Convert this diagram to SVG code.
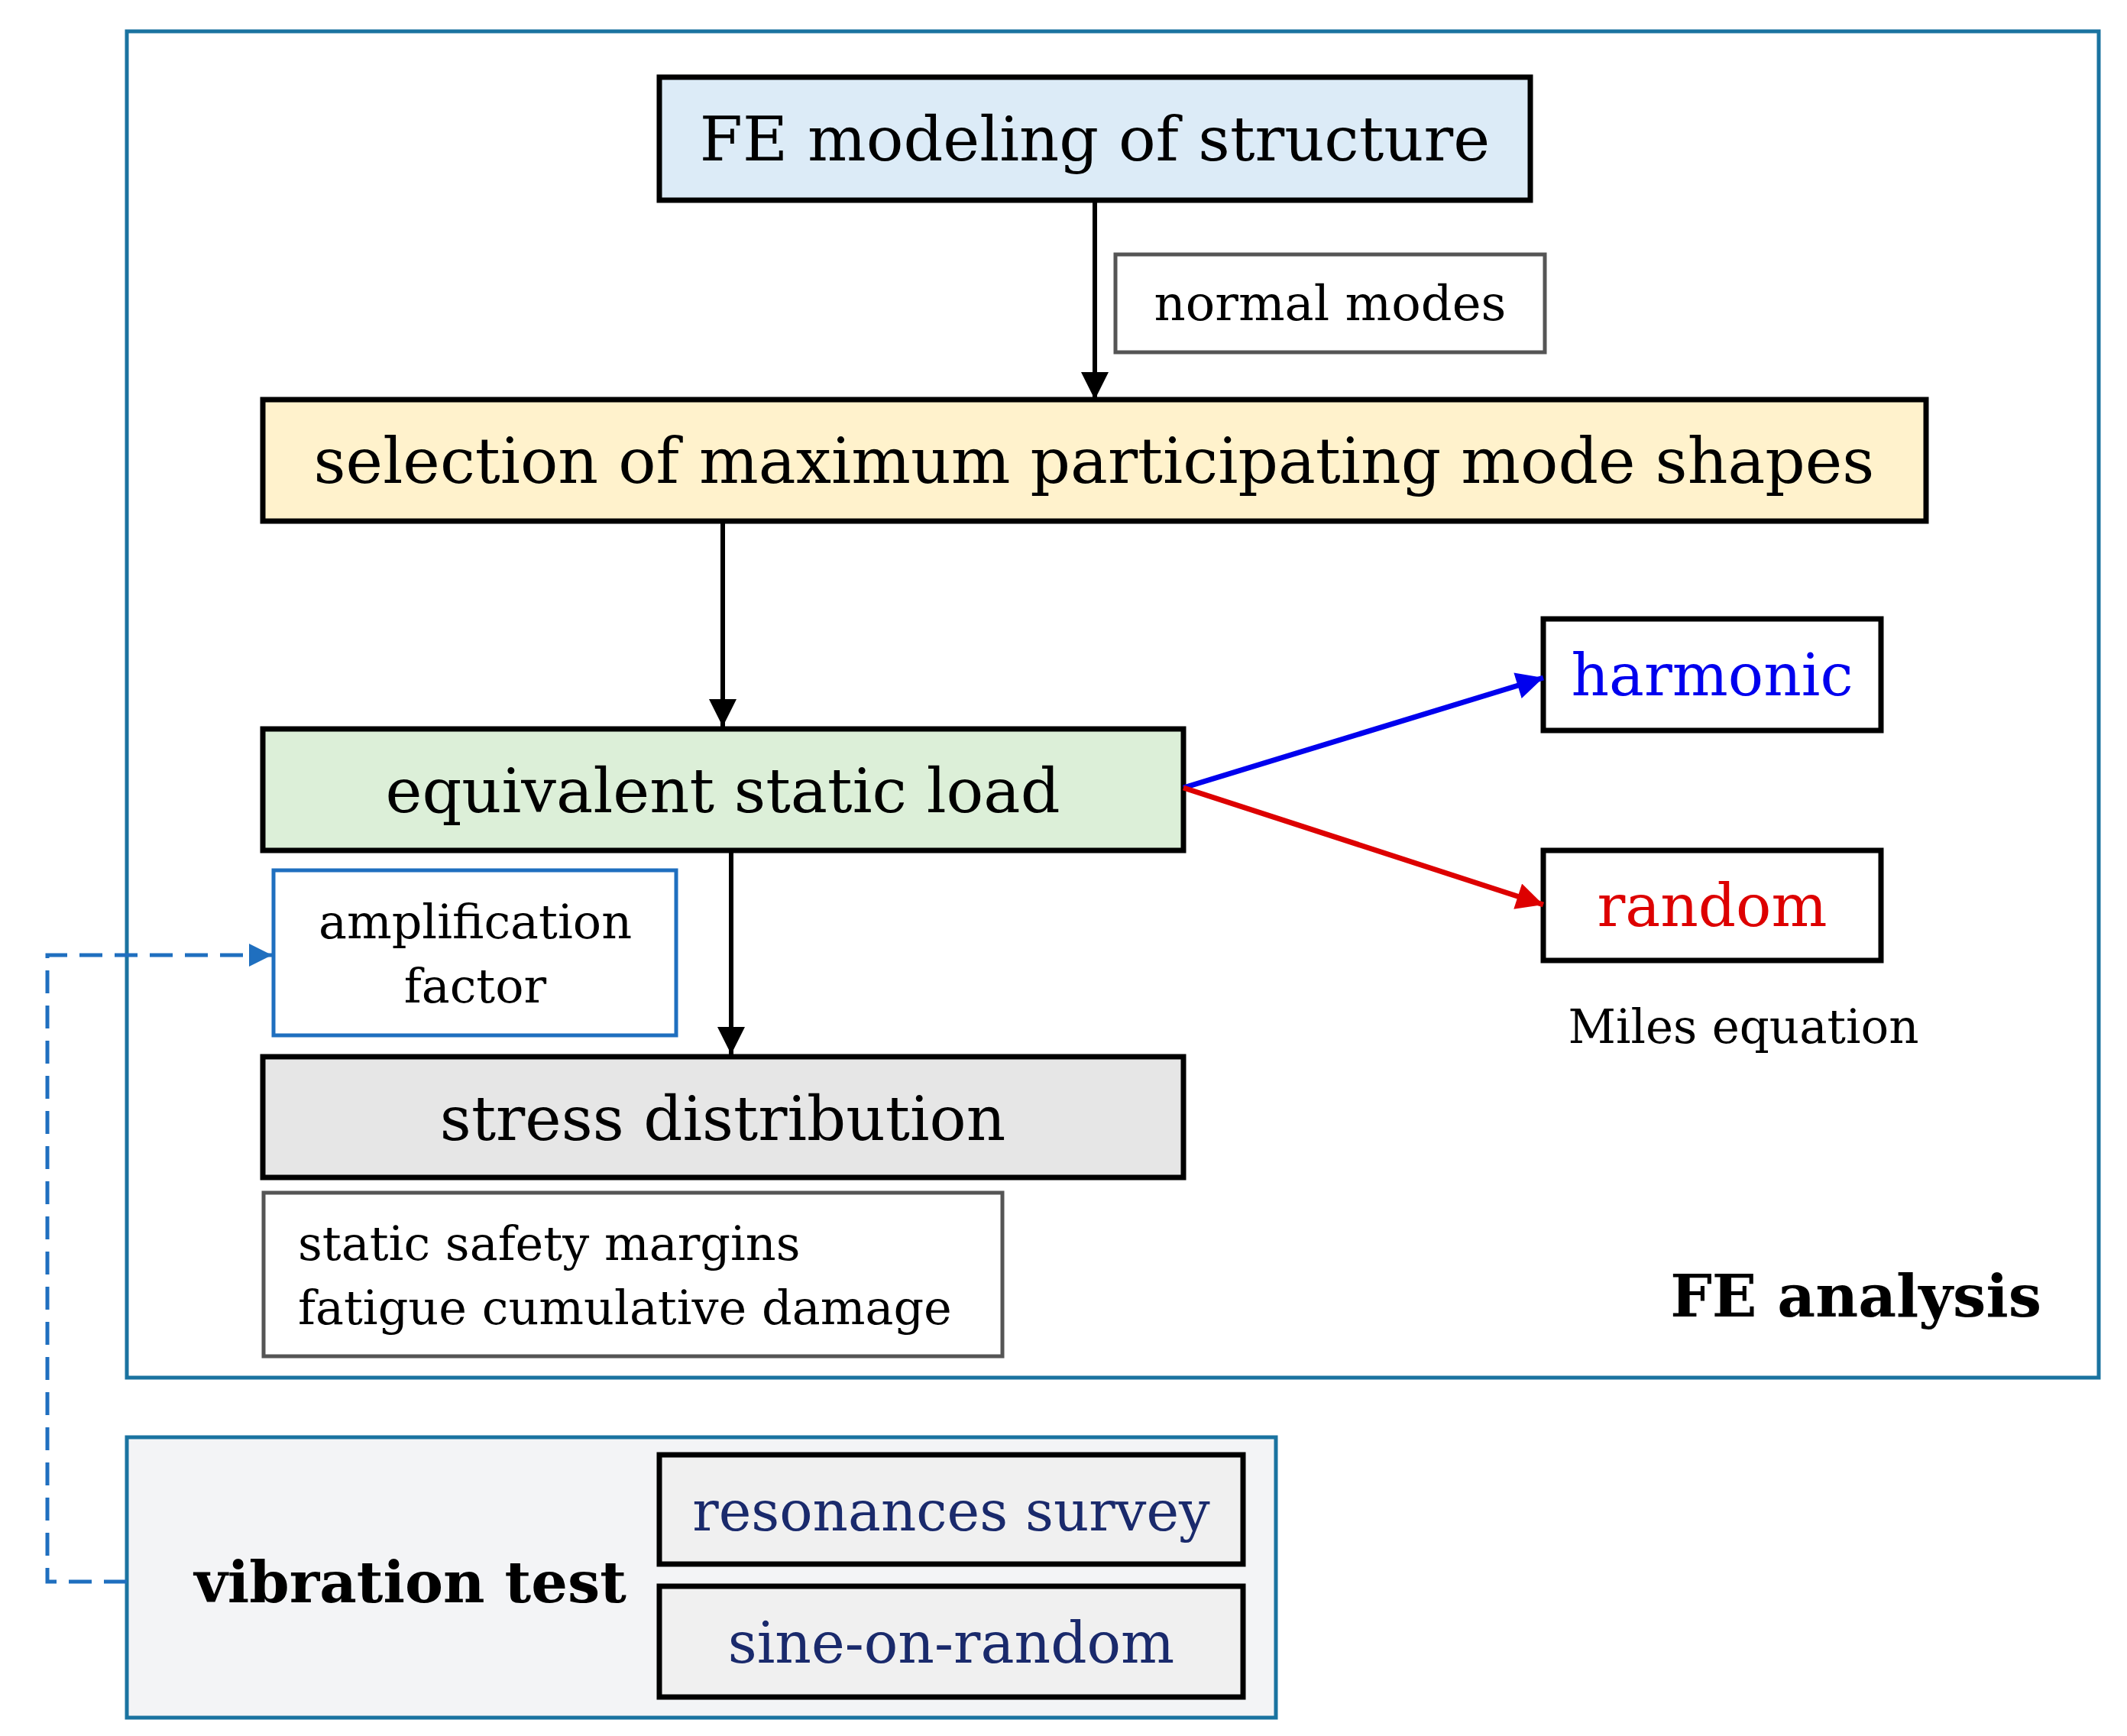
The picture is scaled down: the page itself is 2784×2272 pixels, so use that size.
<svg xmlns="http://www.w3.org/2000/svg" width="2784" height="2272" viewBox="0 0 2784 2272">
<defs>
<style>
text{font-family:"DejaVu Serif","Liberation Serif",serif;text-anchor:middle}
.n{stroke:#000;stroke-width:7}
.c{stroke:#000;stroke-width:6;fill:none}
.big{font-size:81px}
.med{font-size:62px}
</style>
<marker id="ak" viewBox="0 0 10 10" refX="10" refY="5" markerWidth="6" markerHeight="7" orient="auto" markerUnits="strokeWidth"><path d="M0,0L10,5L0,10z" fill="#000"/></marker>
<marker id="ab" viewBox="0 0 10 10" refX="10" refY="5" markerWidth="7" markerHeight="5" orient="auto" markerUnits="strokeWidth"><path d="M0,0L10,5L0,10z" fill="#0000ee"/></marker>
<marker id="ar" viewBox="0 0 10 10" refX="10" refY="5" markerWidth="7" markerHeight="5" orient="auto" markerUnits="strokeWidth"><path d="M0,0L10,5L0,10z" fill="#dd0000"/></marker>
<marker id="ad" viewBox="0 0 10 10" refX="10" refY="5" markerWidth="6" markerHeight="6" orient="auto" markerUnits="strokeWidth"><path d="M0,0L10,5L0,10z" fill="#1f6fbf"/></marker>
</defs>
<rect width="2784" height="2272" fill="#fff"/>
<g id="fe-analysis"><rect x="166" y="41" width="2581" height="1762" fill="none" stroke="#1a73a0" stroke-width="5"/><text x="2672" y="1723" style="font-size:77px;font-weight:bold;text-anchor:end">FE analysis</text></g>
<g id="vibration-test"><rect x="166" y="1881" width="1504" height="367" fill="#f3f4f6" stroke="#1a73a0" stroke-width="5"/><text x="537" y="2097" style="font-size:75px;font-weight:bold">vibration test</text></g>
<g id="fe-modeling"><rect class="n" x="863" y="101" width="1140" height="161" fill="#dcebf7"/><text class="big" x="1433" y="210">FE modeling of structure</text></g>
<g id="normal-modes"><rect x="1460" y="333" width="562" height="128" fill="#fff" stroke="#555" stroke-width="5"/><text x="1741" y="419" style="font-size:64px">normal modes</text></g>
<g id="selection"><rect class="n" x="344" y="523" width="2177" height="159" fill="#fff2cc"/><text x="1432" y="632" style="font-size:82px">selection of maximum participating mode shapes</text></g>
<g id="equivalent"><rect class="n" x="344" y="954" width="1205" height="159" fill="#dcefd8"/><text class="big" x="946" y="1063">equivalent static load</text></g>
<g id="harmonic"><rect class="n" x="2020" y="810" width="442" height="146" fill="#fff"/><text x="2241" y="910" style="font-size:77px" fill="#0000ee">harmonic</text></g>
<g id="random"><rect class="n" x="2020" y="1113" width="442" height="144" fill="#fff"/><text x="2241" y="1212" style="font-size:77px" fill="#dd0000">random</text></g>
<g id="miles"><text x="2282" y="1365" style="font-size:61px">Miles equation</text></g>
<g id="amplification"><rect x="358" y="1139" width="527" height="216" fill="#fff" stroke="#1f6fbf" stroke-width="5"/><text class="med" x="622" y="1228">amplification</text><text class="med" x="622" y="1312">factor</text></g>
<g id="stress"><rect class="n" x="344" y="1383" width="1205" height="158" fill="#e6e6e6"/><text x="946" y="1492" style="font-size:80px">stress distribution</text></g>
<g id="margins"><rect x="345" y="1561" width="967" height="214" fill="#fff" stroke="#555" stroke-width="5"/><text class="med" x="390" y="1649" style="text-anchor:start">static safety margins</text><text class="med" x="390" y="1733" style="text-anchor:start">fatigue cumulative damage</text></g>
<g id="resonances"><rect class="n" x="863" y="1904" width="764" height="143" fill="#f0f0f0"/><text x="1245" y="2003" style="font-size:72px" fill="#1a2a6c">resonances survey</text></g>
<g id="sine"><rect class="n" x="863" y="2076" width="764" height="145" fill="#f0f0f0"/><text x="1245" y="2176" style="font-size:74px" fill="#1a2a6c">sine-on-random</text></g>
<g id="connectors">
<line class="c" x1="1433" y1="262" x2="1433" y2="523" marker-end="url(#ak)"/>
<line class="c" x1="946" y1="682" x2="946" y2="951" marker-end="url(#ak)"/>
<line class="c" x1="957" y1="1113" x2="957" y2="1380" marker-end="url(#ak)"/>
<line x1="1549" y1="1031" x2="2020" y2="887" stroke="#0000ee" stroke-width="7" marker-end="url(#ab)"/>
<line x1="1549" y1="1031" x2="2020" y2="1184" stroke="#dd0000" stroke-width="7" marker-end="url(#ar)"/>
<polyline points="166,2070 62,2070 62,1250 356,1250" fill="none" stroke="#1f6fbf" stroke-width="5" stroke-dasharray="30,16" marker-end="url(#ad)"/>
</g>
</svg>
